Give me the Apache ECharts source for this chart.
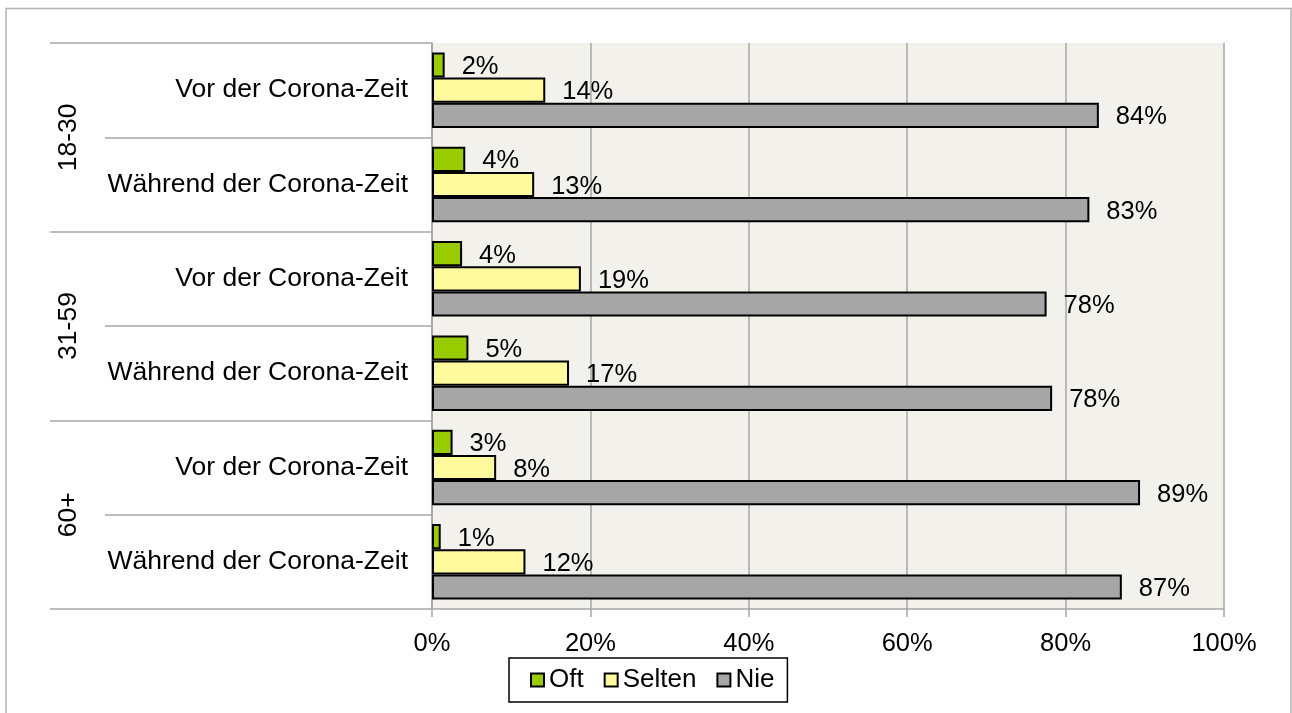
<!DOCTYPE html>
<html>
<head>
<meta charset="utf-8">
<title>Nutzung vor und während der Corona-Zeit</title>
<script src="https://cdn.jsdelivr.net/npm/echarts@6/dist/echarts.min.js"></script>
<style>
    html, body { margin: 0; padding: 0; background: #fff; }
    #chart { width: 1292px; height: 713px; }
</style>
</head>
<body>
<div id="chart"></div>
<script>
// Kategorien (von oben nach unten)
var zeitraum = ['Vor der Corona-Zeit', 'Während der Corona-Zeit',
                'Vor der Corona-Zeit', 'Während der Corona-Zeit',
                'Vor der Corona-Zeit', 'Während der Corona-Zeit'];
var altersgruppen = ['18-30', '31-59', '60+'];

// Anteile in Prozent
var oft    = [1.6, 4.2, 3.8, 4.6, 2.6, 1.1];
var selten = [14.3, 12.9, 18.8, 17.3, 8.1, 11.8];
var nie    = [84.2, 83.0, 77.6, 78.3, 89.4, 87.1];

var xTicks = [0, 20, 40, 60, 80, 100];

var schrift = '"Liberation Sans", Arial, sans-serif';
var grau = '#A6A6A6';

var chart = echarts.init(document.getElementById('chart'));

function balken(name, farbe, werte) {
    return {
        name: name,
        type: 'bar',
        yAxisIndex: 0,
        barGap: '0%',
        barCategoryGap: '20%',
        itemStyle: { color: farbe, borderColor: '#000', borderWidth: 2 },
        label: {
            show: true,
            position: 'right',
            distance: 17,
            offset: [0, 2],
            color: '#000',
            fontSize: 25.5,
            fontFamily: schrift,
            formatter: function (p) { return Math.round(p.value) + '%'; }
        },
        data: werte
    };
}

chart.setOption({
    animation: false,
    graphic: [{
        type: 'rect',
        z: -10,
        shape: { x: 6, y: 8.5, width: 1285, height: 800 },
        style: { fill: 'none', stroke: '#B4B4B4', lineWidth: 1.5 }
    }],
    grid: {
        left: 432,
        right: 68,
        top: 43,
        bottom: 104,
        show: true,
        backgroundColor: '#F2F1EB',
        borderWidth: 0
    },
    legend: {
        data: ['Oft', 'Selten', 'Nie'],
        left: 509,
        top: 658,
        padding: [9, 13, 9, 21],
        itemGap: 20,
        itemWidth: 13,
        itemHeight: 13,
        icon: 'rect',
        borderColor: '#000',
        borderWidth: 1.5,
        backgroundColor: '#fff',
        textStyle: { fontSize: 26, fontFamily: schrift, color: '#000', padding: [2, 0, 0, 0] }
    },
    xAxis: {
        type: 'value',
        min: xTicks[0],
        max: xTicks[xTicks.length - 1],
        interval: 20,
        axisLine: { show: true, lineStyle: { color: grau, width: 1.5 } },
        axisTick: { show: true, length: 8, lineStyle: { color: grau, width: 1.5 } },
        splitLine: { show: true, lineStyle: { color: grau, width: 1.5 } },
        axisLabel: {
            margin: 22,
            color: '#000',
            fontSize: 25.5,
            fontFamily: schrift,
            formatter: '{value}%'
        }
    },
    yAxis: [
        {
            type: 'category',
            inverse: true,
            data: zeitraum,
            axisLine: { show: true, lineStyle: { color: grau, width: 1.5 } },
            axisTick: { show: true, length: 327, lineStyle: { color: grau, width: 1.5 } },
            axisLabel: { margin: 24, color: '#000', fontSize: 26.5, fontFamily: schrift, padding: [3, 0, 0, 0] }
        },
        {
            type: 'category',
            position: 'left',
            inverse: true,
            data: altersgruppen,
            axisLine: { show: false },
            axisTick: { show: true, length: 382, lineStyle: { color: grau, width: 1.5 } },
            axisLabel: { margin: 350, rotate: 90, color: '#000', fontSize: 26.5, fontFamily: schrift }
        }
    ],
    series: [
        balken('Oft', '#99CC00', oft),
        balken('Selten', '#FFFA9E', selten),
        balken('Nie', '#A6A6A6', nie)
    ]
});
</script>
</body>
</html>
